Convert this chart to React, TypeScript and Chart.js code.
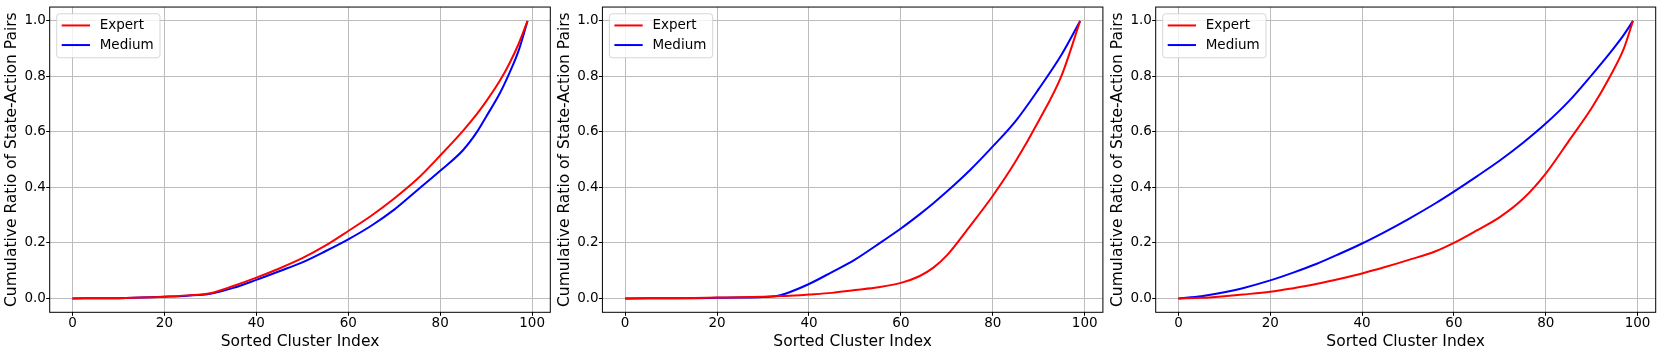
import React, { useEffect, useRef } from 'react';
import { Chart, registerables } from 'chart.js';

Chart.register(...registerables);

// ---------- data ----------
const seriesNames = ['Expert', 'Medium'];
const seriesColors = ['#ff0000', '#0000ff'];

const xTickValues = [0, 20, 40, 60, 80, 100];
const yTickValues = [0, 0.2, 0.4, 0.6, 0.8, 1.0];
const xAxisTitle = 'Sorted Cluster Index';
const yAxisTitle = 'Cumulative Ratio of State-Action Pairs';

// panel 1
const p1X = [0, 5, 10, 15, 20, 25, 30, 35, 40, 45, 50, 55, 60, 65, 70, 75, 80, 85, 88, 90, 93, 95, 97, 99];
const p1Expert = [0, 0.0005, 0.001, 0.003, 0.006, 0.011, 0.019, 0.045, 0.075, 0.108, 0.145, 0.19, 0.243, 0.298, 0.36, 0.43, 0.515, 0.605, 0.665, 0.71, 0.785, 0.845, 0.915, 1.0];
const p1Medium = [0, 0.0005, 0.001, 0.003, 0.006, 0.01, 0.017, 0.038, 0.067, 0.098, 0.13, 0.17, 0.213, 0.262, 0.32, 0.39, 0.46, 0.535, 0.6, 0.655, 0.74, 0.81, 0.89, 1.0];

// panel 2
const p2X = [0, 5, 10, 15, 20, 25, 30, 33, 35, 40, 45, 50, 55, 60, 64, 67, 70, 75, 80, 85, 90, 95, 99];
const p2Expert = [0, 0.0003, 0.0008, 0.0015, 0.003, 0.004, 0.006, 0.008, 0.009, 0.014, 0.02, 0.03, 0.04, 0.056, 0.08, 0.11, 0.155, 0.26, 0.37, 0.495, 0.64, 0.805, 1.0];
const p2Medium = [0, 0.0002, 0.0005, 0.001, 0.002, 0.003, 0.005, 0.009, 0.018, 0.052, 0.095, 0.14, 0.195, 0.252, 0.302, 0.342, 0.385, 0.462, 0.548, 0.64, 0.755, 0.88, 1.0];

// panel 3
const p3X = [0, 5, 10, 14, 20, 25, 30, 35, 40, 45, 50, 56, 60, 65, 70, 75, 80, 85, 90, 94, 97, 99];
const p3Expert = [0, 0.002, 0.008, 0.014, 0.024, 0.037, 0.052, 0.07, 0.09, 0.113, 0.138, 0.17, 0.2, 0.245, 0.293, 0.358, 0.45, 0.567, 0.686, 0.8, 0.9, 1.0];
const p3Medium = [0, 0.008, 0.022, 0.037, 0.065, 0.093, 0.124, 0.16, 0.198, 0.24, 0.285, 0.343, 0.385, 0.44, 0.497, 0.56, 0.63, 0.71, 0.805, 0.885, 0.95, 1.0];

// ---------- layout ----------
const W = 1660;
const H = 354;
const FONT = '"DejaVu Sans", "Noto Sans", sans-serif';
const AREA_TOP = 4.3;
const AREA_BOTTOM = 312.3;
const Y_AXIS_W = 49.7;
const GRID = '#bdbdbd';

const panels = [
  { xs: p1X, series: [p1Expert, p1Medium], left: 49.7, right: 550.3 },
  { xs: p2X, series: [p2Expert, p2Medium], left: 602.4, right: 1102.9 },
  { xs: p3X, series: [p3Expert, p3Medium], left: 1155.7, right: 1655.7 },
];

const framePlugin = {
  id: 'mplFrameLegend',
  afterDraw(chart: any) {
    const { ctx, chartArea } = chart;
    ctx.save();
    ctx.strokeStyle = '#000';
    ctx.lineWidth = 1;
    ctx.strokeRect(chartArea.left, chartArea.top, chartArea.right - chartArea.left, chartArea.bottom - chartArea.top);

    const bx = chartArea.left + 7;
    const by = chartArea.top + 6.7;
    const bw = 103.3;
    const bh = 44;
    ctx.beginPath();
    if ((ctx as any).roundRect) (ctx as any).roundRect(bx, by, bw, bh, 3);
    else ctx.rect(bx, by, bw, bh);
    ctx.fillStyle = 'rgba(255,255,255,0.8)';
    ctx.fill();
    ctx.strokeStyle = 'rgba(204,204,204,0.8)';
    ctx.lineWidth = 1;
    ctx.stroke();

    chart.data.datasets.forEach((ds: any, i: number) => {
      const y = by + 11.7 + i * 19.6;
      ctx.strokeStyle = ds.borderColor;
      ctx.lineWidth = 2;
      ctx.beginPath();
      ctx.moveTo(bx + 5, y);
      ctx.lineTo(bx + 33.3, y);
      ctx.stroke();
      ctx.fillStyle = '#000';
      ctx.font = `13.5px ${FONT}`;
      ctx.textBaseline = 'middle';
      ctx.textAlign = 'left';
      ctx.fillText(ds.label, bx + 43, y + 0.5);
    });
    ctx.restore();
  },
};

function Panel({ xs, series, left, right }: { xs: number[]; series: number[][]; left: number; right: number }) {
  const ref = useRef<HTMLCanvasElement | null>(null);
  useEffect(() => {
    if (!ref.current) return;
    const chart = new Chart(ref.current, {
      type: 'line',
      data: {
        datasets: series.map((ys, i) => ({
          label: seriesNames[i],
          data: xs.map((x, j) => ({ x, y: ys[j] })),
          borderColor: seriesColors[i],
          backgroundColor: seriesColors[i],
          borderWidth: 2,
          pointRadius: 0,
          fill: false,
          cubicInterpolationMode: 'monotone' as const,
        })),
      },
      options: {
        responsive: false,
        animation: false,
        devicePixelRatio: 1,
        layout: { padding: { left: left - Y_AXIS_W, right: W - right, top: AREA_TOP, bottom: 0 } },
        plugins: { legend: { display: false }, tooltip: { enabled: false } },
        scales: {
          x: {
            type: 'linear',
            min: -4.95,
            max: 103.95,
            afterBuildTicks: (s: any) => {
              s.ticks = xTickValues.map((v) => ({ value: v }));
            },
            afterFit: (s: any) => {
              s.height = H - AREA_BOTTOM;
            },
            grid: { color: GRID, lineWidth: 1, tickColor: '#000', tickLength: 3.5, drawTicks: true },
            border: { display: false },
            ticks: {
              color: '#000',
              font: { family: FONT, size: 13.5, lineHeight: 1 },
              padding: 0.5,
              maxRotation: 0,
              autoSkip: false,
              callback: (v: any) => String(v),
            },
            title: {
              display: true,
              text: xAxisTitle,
              color: '#000',
              font: { family: FONT, size: 15.5, lineHeight: 1.2 },
              padding: { top: 0, bottom: 2.8 },
            },
          },
          y: {
            type: 'linear',
            min: -0.05,
            max: 1.05,
            afterBuildTicks: (s: any) => {
              s.ticks = yTickValues.map((v) => ({ value: v }));
            },
            afterFit: (s: any) => {
              s.width = Y_AXIS_W;
            },
            grid: { color: GRID, lineWidth: 1, tickColor: '#000', tickLength: 3.5, drawTicks: true },
            border: { display: false },
            ticks: {
              color: '#000',
              font: { family: FONT, size: 13.5, lineHeight: 1 },
              padding: 0.3,
              autoSkip: false,
              callback: (v: any) => Number(v).toFixed(1),
            },
            title: {
              display: true,
              text: yAxisTitle,
              color: '#000',
              font: { family: FONT, size: 15.5, lineHeight: 1.2 },
              padding: { top: 3.1, bottom: 0 },
            },
          },
        },
      },
      plugins: [framePlugin],
    } as any);
    return () => chart.destroy();
  }, [xs, series, left, right]);
  return (
    <canvas
      ref={ref}
      width={W}
      height={H}
      style={{ position: 'absolute', left: 0, top: 0, width: W, height: H }}
    />
  );
}

export default function App() {
  return (
    <div style={{ position: 'absolute', left: 0, top: 0, width: W, height: H, background: '#fff' }}>
      {panels.map((p, i) => (
        <Panel key={i} xs={p.xs} series={p.series} left={p.left} right={p.right} />
      ))}
    </div>
  );
}
